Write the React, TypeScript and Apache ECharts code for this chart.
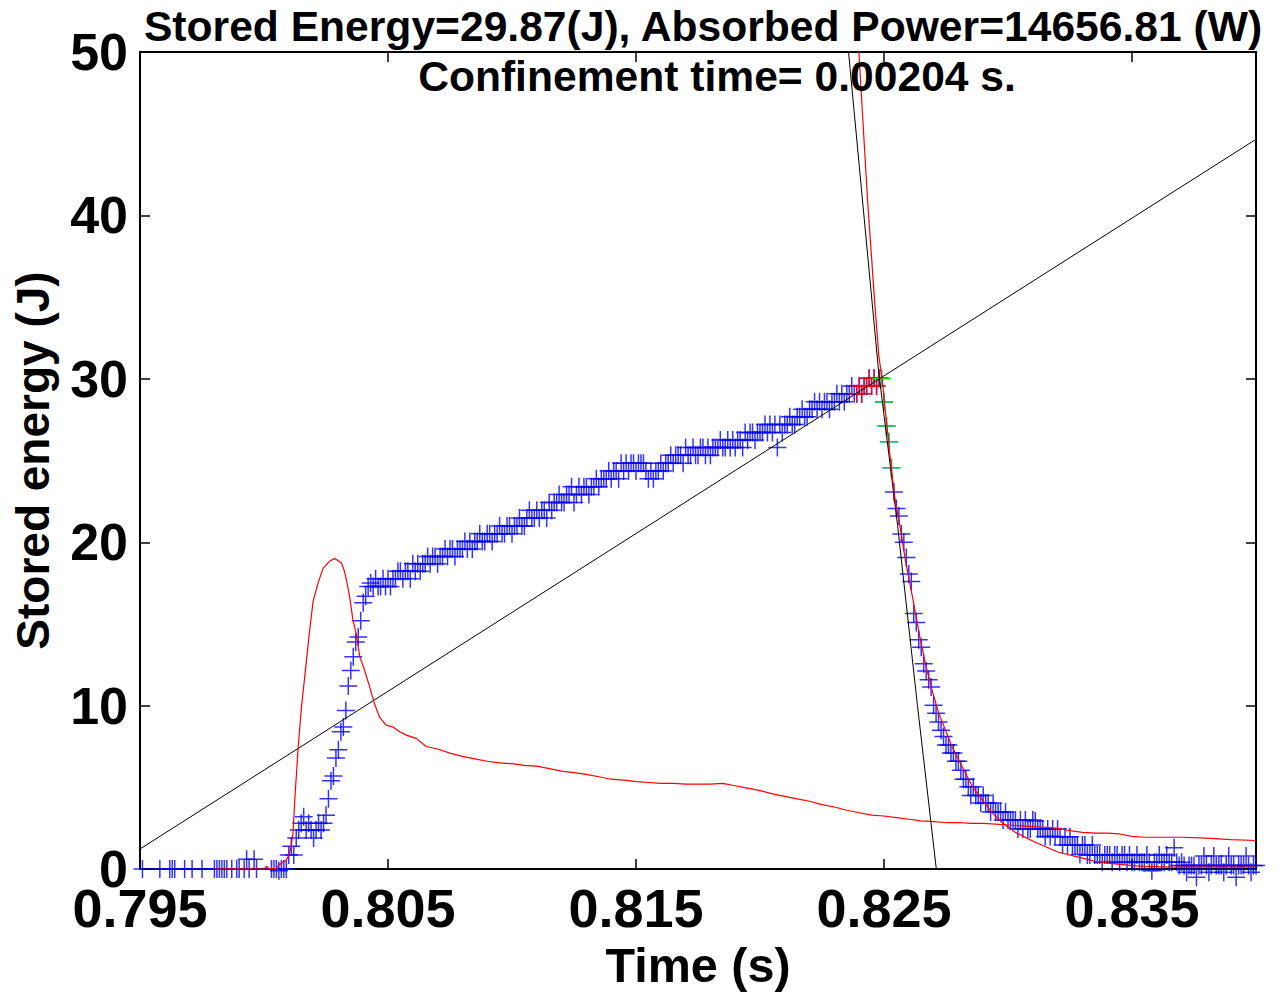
import React, { useEffect, useRef } from "react";
import * as echarts from "echarts";

const FONT = '"Liberation Sans", Arial, Helvetica, sans-serif';

// Sampling grid of the measured stored energy
const T0 = 0.795;
const DT = 0.0001;

// Stored energy (J), one value per sample, null = no marker drawn
const storedEnergy: (number | null)[] = [
  null, 0, null, null, null, null, null, null, 0, null,
  null, null, 0, 0, 0, null, null, null, 0, null,
  null, 0, null, null, null, 0, null, null, null, null,
  0, 0, 0, 0, 0, 0, null, 0, null, 0,
  0, null, 0, 0.6, 0, null, 0.6, 0, null, null,
  null, null, null, 0, 0, 0, -0.1, 0, 0, 0,
  0.87, 1.4, 0.87, 1.9, 2.4, 2.8, 3.2, 2.4, 2.8, 2.4,
  1.9, 2.4, 2.8, 2.4, 2.8, 3.3, 4.3, 5.4, 5.7, 6.8,
  7.3, 8.4, 8.7, 9.7, 11.2, 12.15, 13.0, 13.9, 14.2, 15.2,
  16.3, 16.7, 17.3, 17.5, 17.3, 17.76, 17.3, 17.3, 17.76, 17.3,
  17.76, 17.3, 17.76, 17.76, 18.22, 18.22, 17.76, 18.22, 18.22, 17.76,
  18.68, 18.22, 18.68, 18.22, 18.68, 18.68, 19.13, 18.68, 19.13, 19.13,
  18.68, 19.13, 19.13, 19.58, 19.13, 19.58, 19.58, 19.13, 19.58, 19.58,
  19.58, 20.04, 19.58, 20.04, 19.58, 20.04, 20.04, 20.52, 20.04, 20.04,
  20.52, 20.52, 20.04, 20.52, 20.52, 21.0, 20.52, 20.52, 21.0, 21.0,
  20.52, 21.0, 21.0, 21.48, 21.0, 21.0, 21.48, 21.96, 21.48, 21.48,
  21.96, 21.48, 21.96, 21.96, 21.48, 22.44, 21.96, 22.44, 22.44, 22.92,
  22.44, 22.44, 22.92, 22.92, 23.4, 22.44, 22.92, 23.4, 22.92, 23.4,
  23.4, 22.92, 23.4, 23.4, 23.88, 23.4, 23.88, 23.88, 23.88, 24.36,
  23.88, 24.36, 24.36, 23.88, 24.84, 24.36, 24.84, 24.36, 24.84, 24.84,
  24.36, 24.84, 24.84, 24.84, 24.36, 23.88, 24.36, 23.88, 24.36, 24.36,
  24.84, 24.36, 24.84, 24.84, 25.32, 24.84, 25.32, 25.32, 25.32, 24.84,
  25.8, 25.32, 25.32, 25.8, 25.32, 25.32, 25.8, 25.8, 25.32, 25.8,
  25.32, 25.8, 25.8, 25.8, 26.26, 25.8, 25.8, 26.26, 25.8, 26.26,
  25.8, 26.26, 26.26, 25.8, 26.72, 26.26, 26.72, 26.72, 26.26, 26.72,
  26.72, 26.72, 27.2, 26.72, 27.2, 26.72, 27.2, 25.8, 27.2, 26.72,
  27.2, 27.2, 27.68, 27.2, 27.2, 27.68, 27.68, 28.14, 27.68, 27.68,
  28.14, 28.14, 28.6, 28.14, 28.6, 28.14, 28.6, 28.6, 28.14, 28.6,
  28.6, 29.08, 28.6, 29.08, 28.6, 29.08, 29.08, 29.56, 29.08, 29.08,
  29.56, 29.08, 29.56, 29.56, 30.04, 29.56, 30.04, 29.56, 30.04, 30.02,
  28.58, 27.12, 26.15, 24.56, 23.08, 22.07, 21.6, 20.5, 20.0, 19.07,
  18.06, 17.6, 15.64, 15.09, 14.04, 13.57, 12.56, 12.12, 11.59, 11.15,
  10.03, 9.53, 9.0, 8.5, 8.11, 7.6, 7.6, 7.1, 7.1, 6.6,
  6.6, 6.05, 5.5, 5.5, 5.04, 4.5, 5.04, 4.5, 4.5, 4.05,
  4.5, 4.05, 4.05, 3.5, 4.05, 3.5, 3.5, 3.5, 3.0, 3.5,
  3.0, 3.0, 3.0, 3.0, 2.45, 3.0, 2.45, 3.0, 2.45, 2.45,
  3.0, 2.95, 2.45, 2.45, 2.45, 2.0, 2.45, 2.0, 2.45, 2.0,
  2.45, 1.98, 1.48, 1.98, 1.48, 1.98, 1.48, 1.48, 1.48, 0.9,
  1.48, 1.48, 0.87, 0.87, 1.48, 0.87, 0.87, 0.87, 0.42, 0.87,
  0.87, 0.87, 0.42, 0.87, 0.87, 0.42, 0.87, 0.87, 0.42, 0.87,
  0.42, 0.42, 0.87, 0.42, 0.42, 0.42, 0.87, 0.42, -0.1, 0.42,
  0.42, 0.87, 0.42, 0.42, 0.87, 0.42, 0.42, 1.3, 0.42, 0.22,
  0.42, 0.22, -0.2, 0.22, 0.22, 0.22, -0.5, 0.22, 0.22, 0.8,
  0.22, -0.2, 0.22, 0.8, 0.22, 0.22, 0.22, -0.2, 0.22, 0.8,
  0.22, 0.22, -0.5, 0.22, 0.22, 0.22, 0.8, 0.22, -0.2, 0.22,
  0.22,
];

// Sample index ranges highlighted as the maximum (red) and the decay start (green)
const peakRange = [289, 298];
const decayRange = [299, 303];

// Red trace (scaled signal)
const signalTime = [
  0.798, 0.799, 0.8, 0.8001, 0.8002, 0.8005, 0.8006, 0.8009, 0.801, 0.8011,
  0.80117, 0.80124, 0.80137, 0.80151, 0.80164, 0.80184, 0.80198, 0.80218, 0.80238, 0.80265,
  0.80285, 0.80312, 0.80325, 0.80339, 0.80348, 0.80359, 0.80372, 0.80386, 0.80406, 0.80426,
  0.80446, 0.80466, 0.80493, 0.8052, 0.80547, 0.80574, 0.80614, 0.80654, 0.807, 0.8075,
  0.808, 0.8085, 0.809, 0.8095, 0.81, 0.8105, 0.811, 0.8115, 0.812, 0.8125,
  0.813, 0.8135, 0.814, 0.8145, 0.815, 0.8155, 0.816, 0.8165, 0.817, 0.8175,
  0.818, 0.8185, 0.819, 0.8195, 0.82, 0.8205, 0.821, 0.8215, 0.822, 0.8225,
  0.823, 0.8235, 0.824, 0.8245, 0.825, 0.8255, 0.826, 0.8265, 0.827, 0.8275,
  0.828, 0.8285, 0.829, 0.8295, 0.83, 0.8305, 0.831, 0.8315, 0.832, 0.8325,
  0.833, 0.8335, 0.834, 0.8345, 0.835, 0.8355, 0.836, 0.837, 0.838, 0.839,
  0.84,
];
const signalValue = [
  0, 0.02, 0, 0.18, 0.02, 0.05, 0.25, 0.55, 0.85, 1.45,
  2.2, 4.2, 7.3, 9.9, 11.75, 14.6, 16.4, 17.5, 18.4, 18.85,
  19.0, 18.75, 18.2, 17.2, 16.4, 15.2, 14.4, 13.0, 12.15, 11.15,
  10.1, 9.3, 8.8, 8.7, 8.4, 8.2, 8.0, 7.5, 7.35, 7.1,
  6.9, 6.75, 6.6, 6.5, 6.45, 6.35, 6.3, 6.15, 6.0, 5.9,
  5.8, 5.65, 5.5, 5.45, 5.35, 5.3, 5.25, 5.25, 5.2, 5.2,
  5.2, 5.25, 5.1, 4.95, 4.8, 4.6, 4.45, 4.3, 4.15, 3.95,
  3.8, 3.6, 3.45, 3.3, 3.25, 3.15, 3.05, 2.95, 2.9, 2.85,
  2.85, 2.8, 2.8, 2.75, 2.7, 2.65, 2.6, 2.55, 2.5, 2.35,
  2.25, 2.2, 2.2, 2.15, 2.0, 1.95, 1.95, 1.95, 1.9, 1.8,
  1.75,
];

// Red exponential decay fit
const fitTime = [
  0.82391, 0.82433, 0.82461, 0.82479, 0.82492, 0.82512, 0.8253, 0.82546, 0.82566, 0.82587,
  0.82613, 0.8264, 0.82667, 0.82694, 0.82721, 0.82748, 0.82774, 0.82801, 0.82828, 0.82855,
  0.82895, 0.82935, 0.82976, 0.83029, 0.8311, 0.83204, 0.83284, 0.83353, 0.83433, 0.83526,
  0.83659, 0.84,
];
const fitValue = [
  52, 41.1, 35.0, 31.4, 30.05, 27.1, 24.5, 22.47, 20.85, 18.83,
  16.8, 14.58, 12.56, 10.94, 9.53, 8.5, 7.5, 6.69, 5.89, 5.08,
  4.27, 3.46, 2.85, 2.25, 1.64, 1.03, 0.73, 0.47, 0.32, 0.18,
  0.12, 0.12,
];

// Black linear rise fit
const rampTime = [0.795, 0.84];
const rampValue = [1.23, 44.66];

// Black linear decay fit
const steepTime = [0.82343, 0.82357, 0.82478, 0.82555, 0.82635, 0.82711];
const steepValue = [52, 50, 30.5, 21, 10, 0];

// Tick values
const xTicks = [0.795, 0.805, 0.815, 0.825, 0.835];
const yTicks = [0, 10, 20, 30, 40, 50];

const titleLine1 = "Stored Energy=29.87(J), Absorbed Power=14656.81 (W)";
const titleLine2 = "Confinement time= 0.00204 s.";

const PLUS = "path://M0 8.25H18V9.75H0Z M8.25 0H9.75V18H8.25Z";

const pairs = (ts: number[], vs: number[]) => ts.map((t, i) => [t, vs[i]]);
const energyAt = (i: number) => [+(T0 + i * DT).toFixed(4), storedEnergy[i] as number];
const rangePoints = (r: number[]) => {
  const out: number[][] = [];
  for (let i = r[0]; i <= r[1]; i++) if (storedEnergy[i] !== null) out.push(energyAt(i));
  return out;
};

export default function App() {
  const ref = useRef<HTMLDivElement>(null);
  useEffect(() => {
    if (!ref.current) return;
    const chart = echarts.init(ref.current, undefined, { renderer: "svg" });
    const bluePts: number[][] = [];
    storedEnergy.forEach((v, i) => {
      if (v !== null) bluePts.push(energyAt(i));
    });
    const axisLine = { show: true, onZero: false, lineStyle: { color: "#000", width: 2 } };
    const xTick = { show: true, inside: true, length: 10, customValues: xTicks, lineStyle: { color: "#000", width: 1.5 } };
    const yTick = { show: true, inside: true, length: 10, customValues: yTicks, lineStyle: { color: "#000", width: 1.5 } };
    const labelStyle = { fontFamily: FONT, fontWeight: "bold" as const, color: "#000" };
    chart.setOption({
      animation: false,
      backgroundColor: "#fff",
      grid: { left: 140, right: 24, top: 52, bottom: 117, containLabel: false },
      xAxis: [
        {
          type: "value", min: 0.795, max: 0.84, position: "bottom",
          name: "Time (s)", nameLocation: "middle", nameGap: 58,
          nameTextStyle: { fontFamily: FONT, fontWeight: "bold", fontSize: 48.5, color: "#000" },
          axisLine, axisTick: xTick,
          axisLabel: {
            ...labelStyle, fontSize: 54, lineHeight: 42, customValues: xTicks, margin: 18,
            formatter: (v: number) => v.toFixed(3),
          },
          splitLine: { show: false },
        },
        {
          type: "value", min: 0.795, max: 0.84, position: "top",
          axisLine, axisTick: xTick, axisLabel: { show: false }, splitLine: { show: false },
        },
      ],
      yAxis: [
        {
          type: "value", min: 0, max: 50, interval: 10, position: "left",
          name: "Stored energy (J)", nameLocation: "middle", nameGap: 84,
          nameTextStyle: { fontFamily: FONT, fontWeight: "bold", fontSize: 46, color: "#000" },
          axisLine, axisTick: yTick,
          axisLabel: { ...labelStyle, fontSize: 52, lineHeight: 38, margin: 12 },
          splitLine: { show: false },
        },
        {
          type: "value", min: 0, max: 50, interval: 10, position: "right",
          axisLine, axisTick: yTick, axisLabel: { show: false }, splitLine: { show: false },
        },
      ],
      graphic: [
        {
          type: "text", x: 703, y: 26, silent: true,
          style: { text: titleLine1, fill: "#000", font: `bold 42.6px ${FONT}`, textAlign: "center", textVerticalAlign: "middle" },
        },
        {
          type: "text", x: 717, y: 76, silent: true, z: 100,
          style: { text: titleLine2, fill: "#000", font: `bold 42.6px ${FONT}`, textAlign: "center", textVerticalAlign: "middle" },
        },
      ],
      series: [
        {
          type: "scatter", name: "Stored energy", data: bluePts, symbol: PLUS, symbolSize: 18,
          itemStyle: { color: "#0000ff" }, clip: false, silent: true,
        },
        {
          type: "scatter", name: "Maximum", data: rangePoints(peakRange), symbol: PLUS, symbolSize: 18,
          itemStyle: { color: "#ff0000" }, clip: false, silent: true,
        },
        {
          type: "scatter", name: "Decay start", data: rangePoints(decayRange), symbol: PLUS, symbolSize: 18,
          itemStyle: { color: "#00ff00" }, clip: false, silent: true,
        },
        {
          type: "line", name: "Rise fit", data: pairs(rampTime, rampValue), showSymbol: false, symbol: "none",
          lineStyle: { color: "#000", width: 1 }, clip: true, silent: true,
        },
        {
          type: "line", name: "Decay line", data: pairs(steepTime, steepValue), showSymbol: false, symbol: "none",
          lineStyle: { color: "#000", width: 1 }, clip: true, silent: true,
        },
        {
          type: "line", name: "Decay fit", data: pairs(fitTime, fitValue), showSymbol: false, symbol: "none",
          lineStyle: { color: "#ff0000", width: 1.2 }, clip: true, silent: true,
        },
        {
          type: "line", name: "Signal", data: pairs(signalTime, signalValue), showSymbol: false, symbol: "none",
          lineStyle: { color: "#ff0000", width: 1.2 }, clip: true, silent: true,
        },
      ],
    });
    return () => chart.dispose();
  }, []);
  return <div ref={ref} style={{ position: "fixed", left: 0, top: 0, width: 1280, height: 994, background: "#fff" }} />;
}
